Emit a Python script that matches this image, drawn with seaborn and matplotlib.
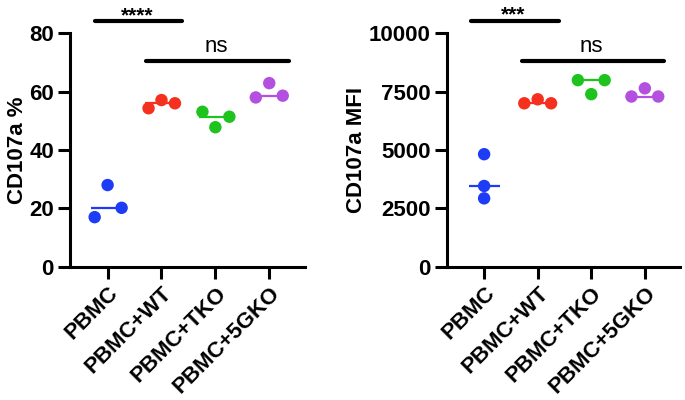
import matplotlib
matplotlib.use('Agg')
import matplotlib.pyplot as plt
import seaborn as sns
import pandas as pd
import numpy as np

groups = ['PBMC', 'PBMC+WT', 'PBMC+TKO', 'PBMC+5GKO']
colors = ['#1E3CF5', '#F5301E', '#1EC31E', '#B450E0']

# CD107a % (three donors per group)
pct_pbmc = [17.0, 28.0, 20.2]
pct_wt = [54.3, 57.1, 56.0]
pct_tko = [53.1, 47.8, 51.4]
pct_5gko = [58.0, 62.9, 58.6]

# CD107a MFI
mfi_pbmc = [4820, 3460, 2930]
mfi_wt = [7000, 7170, 7000]
mfi_tko = [7990, 7390, 7990]
mfi_5gko = [7290, 7640, 7290]

# horizontal placement of the three dots inside each group
offsets_left = [[-0.24, 0.0, 0.26], [-0.24, 0.0, 0.25], [-0.24, 0.0, 0.26], [-0.25, 0.0, 0.25]]
offsets_right = [[0.0, 0.0, 0.0], [-0.25, 0.0, 0.25], [-0.25, 0.0, 0.25], [-0.25, 0.0, 0.25]]


def make_df(values, offsets):
    rows = []
    for i, (g, vals) in enumerate(zip(groups, values)):
        for v, off in zip(vals, offsets[i]):
            rows.append({'group': g, 'x': i + off, 'value': v})
    return pd.DataFrame(rows)


df_pct = make_df([pct_pbmc, pct_wt, pct_tko, pct_5gko], offsets_left)
df_mfi = make_df([mfi_pbmc, mfi_wt, mfi_tko, mfi_5gko], offsets_right)

sns.set_theme(style='ticks')
plt.rcParams['font.family'] = ['Liberation Sans', 'DejaVu Sans']
plt.rcParams['font.weight'] = 'bold'
for key in ['text.color', 'axes.labelcolor', 'xtick.color', 'ytick.color', 'axes.edgecolor']:
    plt.rcParams[key] = 'black'

fig = plt.figure(figsize=(6.85, 4.0), dpi=100)
ax1 = fig.add_axes([0.102, 0.333, 0.343, 0.584])
ax2 = fig.add_axes([0.652, 0.333, 0.341, 0.584])


def draw_panel(ax, df, ymax, yticks, ylabel, star_text, star_y, ns_y, med_half):
    pal = dict(zip(groups, colors))
    sns.scatterplot(data=df, x='x', y='value', hue='group', palette=pal,
                    s=80, edgecolor='none', legend=False, ax=ax, zorder=3,
                    clip_on=False)
    med = df.groupby('group', sort=False)['value'].median()
    for i, g in enumerate(groups):
        ax.hlines(med[g], i - med_half, i + med_half, color=pal[g], lw=1.6, zorder=2)

    ax.set_xlim(-0.7, 3.66)
    ax.set_ylim(0, ymax)
    ax.set_yticks(yticks)
    ax.set_xticks(range(len(groups)))
    ax.set_xticklabels(groups, rotation=45, ha='right', rotation_mode='anchor',
                       fontsize=16, fontweight='bold')
    ax.set_xlabel('')
    ax.set_ylabel(ylabel, fontsize=16, fontweight='bold', labelpad=1)
    for lab in ax.get_yticklabels():
        lab.set_fontsize(16)
        lab.set_fontweight('bold')
    sns.despine(ax=ax)
    for side in ['left', 'bottom']:
        ax.spines[side].set_linewidth(2.2)
    ax.tick_params(axis='both', width=2.2, length=8.5, pad=3)
    ax.tick_params(axis='x', pad=3)

    ax.plot([-0.24, 1.39], [star_y, star_y], color='black', lw=3,
            solid_capstyle='round', clip_on=False)
    ax.text(0.55, star_y, star_text, ha='center', va='baseline',
            fontsize=15, fontweight='bold')
    ax.plot([0.71, 3.36], [ns_y, ns_y], color='black', lw=3,
            solid_capstyle='round', clip_on=False)
    ax.text(2.01, ns_y + 0.038 * ymax, 'ns', ha='center', va='baseline',
            fontsize=16, fontweight='normal')


draw_panel(ax1, df_pct, 80, [0, 20, 40, 60, 80], 'CD107a %', '****', 84.1, 70.4, 0.3)
draw_panel(ax2, df_mfi, 10000, [0, 2500, 5000, 7500, 10000], 'CD107a MFI', '***', 10527, 8813, 0.29)

plt.savefig('out.png', dpi=100)
